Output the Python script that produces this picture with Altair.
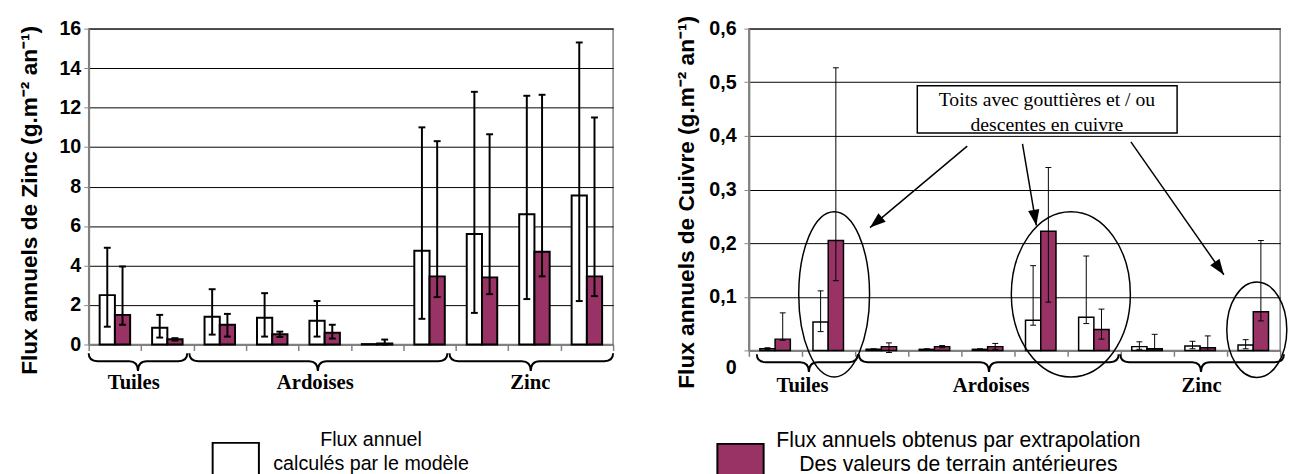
import math
import altair as alt
import pandas as pd

# ---------------- data ----------------
slots = ["1", "2", "3", "4", "5", "6", "7", "8", "9", "10"]
series = ["Flux annuel calculés par le modèle",
          "Flux annuels obtenus par extrapolation des valeurs de terrain antérieures"]
colors = ["#ffffff", "#993366"]

# Zinc (g.m-2 an-1)
zn_model = [2.5, 0.85, 1.4, 1.35, 1.2, 0.02, 4.75, 5.6, 6.6, 7.55]
zn_model_lo = [0.9, 0.35, 0.5, 0.4, 0.4, None, 1.3, 1.6, 2.3, 2.2]
zn_model_hi = [4.9, 1.5, 2.8, 2.6, 2.2, None, 11.0, 12.8, 12.6, 15.3]
zn_field = [1.5, 0.27, 1.0, 0.52, 0.6, 0.05, 3.45, 3.4, 4.7, 3.45]
zn_field_lo = [1.0, 0.2, 0.4, 0.38, 0.3, 0.0, 2.4, 2.55, 3.45, 2.45]
zn_field_hi = [3.95, 0.32, 1.55, 0.65, 1.0, 0.25, 10.3, 10.65, 12.65, 11.5]

# Cuivre (g.m-2 an-1)
cu_model = [0.003, 0.053, 0.002, 0.002, 0.002, 0.056, 0.062, 0.007, 0.008, 0.010]
cu_model_lo = [0.002, 0.035, 0.001, 0.001, 0.001, 0.047, 0.050, 0.002, 0.003, 0.003]
cu_model_hi = [0.005, 0.111, 0.003, 0.003, 0.003, 0.158, 0.176, 0.016, 0.017, 0.020]
cu_field = [0.021, 0.205, 0.007, 0.007, 0.007, 0.222, 0.039, 0.003, 0.005, 0.072]
cu_field_lo = [0.019, 0.130, -0.004, 0.005, 0.002, 0.090, 0.021, 0.000, 0.000, 0.055]
cu_field_hi = [0.070, 0.527, 0.014, 0.009, 0.013, 0.341, 0.077, 0.030, 0.027, 0.205]

groups = ["Tuiles", "Ardoises", "Zinc"]
zn_ticks = [0, 2, 4, 6, 8, 10, 12, 14, 16]
cu_ticks = [0, 0.1, 0.2, 0.3, 0.4, 0.5, 0.6]
legend_model = ["Flux annuel", "calculés par le modèle"]
legend_field = ["Flux annuels obtenus par extrapolation", "Des valeurs de terrain antérieures"]
note_lines = ["Toits avec gouttières et / ou", "descentes en cuivre"]

# ---------------- layout / style ----------------
W_L, H_L = 533, 321
W_R, H_R = 540, 327
SANS = "Liberation Sans"
SERIF = "Liberation Serif"


def long_df(model, mlo, mhi, field, flo, fhi):
    rows = []
    for i, s in enumerate(slots):
        rows.append(dict(slot=s, series=series[0], value=model[i], lo=mlo[i], hi=mhi[i]))
        rows.append(dict(slot=s, series=series[1], value=field[i], lo=flo[i], hi=fhi[i]))
    return pd.DataFrame(rows)


def brace_path(x0, x1, tip, ppu, U=10.0, H=18.0, m=8.0, r=9.0):
    c = (tip - x0) * ppu
    W = (x1 - x0) * ppu
    L, R = -c / U, (W - c) / U
    mm, hh, rr = m / U, H / U, r / U
    return (f"M {L:.3f},0 Q {L:.3f},{mm:.3f} {L + rr:.3f},{mm:.3f} L {-rr:.3f},{mm:.3f} "
            f"Q 0,{mm:.3f} 0,{hh:.3f} Q 0,{mm:.3f} {rr:.3f},{mm:.3f} "
            f"L {R - rr:.3f},{mm:.3f} Q {R:.3f},{mm:.3f} {R:.3f},0")


def ellipse_path(w, h, U=10.0):
    a, b = w / 2 / U, h / 2 / U
    return f"M {-a:.3f},0 A {a:.3f},{b:.3f} 0 0 1 {a:.3f},0 A {a:.3f},{b:.3f} 0 0 1 {-a:.3f},0 Z"


def panel(df, width, height, ydom, yaxis, pad_outer, bar_sw, err_sw, cap,
          braces, label_pos, brace_dy, label_dy, extra=None):
    ppu = width / 10.0
    xaxis = alt.Axis(title=None, labels=False, grid=False, tickBand="extent", ticks=True,
                     tickSize=6, tickColor="#808080", tickWidth=1.5,
                     domain=True, domainColor="#808080", domainWidth=2)

    def XB(axis=None):
        return alt.X("slot:N", sort=slots,
                     scale=alt.Scale(domain=slots, paddingInner=0, paddingOuter=0),
                     axis=axis, title=None)

    XO = alt.XOffset("series:N",
                     scale=alt.Scale(domain=series, paddingInner=0, paddingOuter=pad_outer))
    ysc = alt.Scale(domain=ydom, nice=False, zero=False)

    def Y(f):
        return alt.Y(f, type="quantitative", scale=ysc, axis=yaxis)

    XP = lambda f: alt.X(f, type="quantitative",
                         scale=alt.Scale(domain=[0, 10], nice=False, zero=False), axis=None)

    base = alt.Chart(df)
    bars = base.mark_bar(stroke="black", strokeWidth=bar_sw).encode(
        x=XB(xaxis), xOffset=XO, y=Y("value"),
        fill=alt.Fill("series:N", scale=alt.Scale(domain=series, range=colors), legend=None))
    errs = base.transform_filter("isValid(datum.lo)")
    rule = errs.mark_rule(color="black", strokeWidth=err_sw).encode(
        x=XB(), xOffset=XO, y=Y("lo"), y2="hi:Q")
    cap_lo = errs.mark_tick(color="black", thickness=err_sw, size=cap, opacity=1).encode(
        x=XB(), xOffset=XO, y=Y("lo"))
    cap_hi = errs.mark_tick(color="black", thickness=err_sw, size=cap, opacity=1).encode(
        x=XB(), xOffset=XO, y=Y("hi"))

    paths = [brace_path(b[0], b[1], b[2], ppu) for b in braces]
    bdf = pd.DataFrame({"name": groups, "pos": [b[2] for b in braces], "y": [0] * 3,
                        "lpos": label_pos})
    brace = alt.Chart(bdf).mark_point(filled=False, color="black", strokeWidth=2,
                                      opacity=1, size=400, yOffset=brace_dy).encode(
        x=XP("pos"), y=Y("y"),
        shape=alt.Shape("name:N", scale=alt.Scale(domain=groups, range=paths), legend=None))
    glab = alt.Chart(bdf).mark_text(font=SERIF, fontWeight="bold", fontSize=21,
                                    baseline="middle", dy=label_dy, color="black").encode(
        x=XP("lpos"), y=Y("y"), text="name:N")

    layers = [bars, rule, cap_lo, cap_hi, brace, glab]
    if extra:
        layers += extra(XP, Y)
    return alt.layer(*layers).resolve_scale(x="independent", shape="independent").properties(
        width=width, height=height)


# ---------------- left panel (Zinc) ----------------
df_zn = long_df(zn_model, zn_model_lo, zn_model_hi, zn_field, zn_field_lo, zn_field_hi)
yaxis_l = alt.Axis(title="Flux annuels de Zinc (g.m⁻² an⁻¹)", values=zn_ticks,
                   grid=True, gridColor="#000000", gridWidth=1, tickSize=5,
                   labelPadding=3, titlePadding=18, titleFontSize=23, titleY=174,
                   domain=True, domainColor="#808080", domainWidth=2)


def left_extra(XP, Y):
    one = pd.DataFrame({"k": ["m"]})
    box = alt.Chart(one).mark_rect(fill=colors[0], stroke="black", strokeWidth=2).encode(
        x=alt.value(126), x2=alt.value(173), y=alt.value(421), y2=alt.value(468))
    txt = alt.Chart(one).mark_text(font=SANS, fontSize=20, lineHeight=25, baseline="middle",
                                   align="center", color="black").encode(
        x=alt.value(287), y=alt.value(418), text=alt.value(legend_model))
    return [box, txt]


left = panel(df_zn, W_L, H_L, [0, 16], yaxis_l, 0.72, 2, 2, 7,
             braces=[(0.0, 1.88, 0.94), (1.92, 6.84, 4.37), (6.88, 10.0, 8.43)],
             label_pos=[0.86, 4.32, 8.42], brace_dy=9, label_dy=39, extra=left_extra)

# ---------------- right panel (Cuivre) ----------------
df_cu = long_df(cu_model, cu_model_lo, cu_model_hi, cu_field, cu_field_lo, cu_field_hi)
yaxis_r = alt.Axis(title="Flux annuels de Cuivre (g.m⁻² an⁻¹)", values=cu_ticks,
                   labelExpr="datum.value == 0 ? '0' : replace(format(datum.value, '.1f'), '.', ',')",
                   labelOffset={"condition": {"test": "datum.value == 0", "value": 17}, "value": 0},
                   grid=True, gridColor="#000000", gridWidth=1, tickSize=5,
                   labelPadding=8, titlePadding=10, titleFontSize=23, titleY=176,
                   domain=True, domainColor="#808080", domainWidth=2)


def right_extra(XP, Y):
    ppu, ppv = W_R / 10.0, H_R / 0.6
    ell = pd.DataFrame({"name": ["e1", "e2", "e3"], "pos": [1.605, 6.06, 9.56],
                        "val": [0.1045, 0.1045, 0.0385]})
    epaths = [ellipse_path(72, 168), ellipse_path(121, 168), ellipse_path(61, 97)]
    ellipses = alt.Chart(ell).mark_point(filled=False, color="black", strokeWidth=1.5,
                                         opacity=1, size=400).encode(
        x=XP("pos"), y=Y("val"),
        shape=alt.Shape("name:N", scale=alt.Scale(domain=["e1", "e2", "e3"], range=epaths),
                        legend=None))
    bx = pd.DataFrame({"p0": [3.17], "p1": [8.06], "v0": [0.4055], "v1": [0.4936]})
    box = alt.Chart(bx).mark_rect(fill="white", stroke="black", strokeWidth=1.5).encode(
        x=XP("p0"), x2="p1:Q", y=Y("v0"), y2="v1:Q")
    nt = pd.DataFrame({"t": note_lines, "pos": [5.61, 5.61], "val": [0.466, 0.420]})
    note = alt.Chart(nt).mark_text(font=SERIF, fontSize=20, baseline="middle",
                                   color="black").encode(x=XP("pos"), y=Y("val"), text="t:N")
    x1 = [4.11, 5.15, 7.19]
    y1 = [0.381, 0.385, 0.389]
    x2 = [2.28, 5.41, 8.94]
    y2 = [0.229, 0.233, 0.141]
    ang = []
    for a, b, c, d in zip(x1, y1, x2, y2):
        dx = (c - a) * ppu
        dy = -(d - b) * ppv
        ang.append(math.degrees(math.atan2(dx, -dy)) % 360)
    ar = pd.DataFrame({"x1": x1, "y1": y1, "x2": x2, "y2": y2, "ang": ang})
    shafts = alt.Chart(ar).mark_rule(color="black", strokeWidth=1.5).encode(
        x=XP("x1"), x2="x2:Q", y=Y("y1"), y2="y2:Q")
    heads = alt.Chart(ar).mark_point(shape="M 0,0 L -0.36,1 L 0.36,1 Z", filled=True,
                                     color="black", opacity=1, size=1024).encode(
        x=XP("x2"), y=Y("y2"), angle=alt.Angle("ang:Q", scale=None))
    one = pd.DataFrame({"k": ["f"]})
    lbox = alt.Chart(one).mark_rect(fill=colors[1], stroke="black", strokeWidth=2).encode(
        x=alt.value(-32), x2=alt.value(15), y=alt.value(422), y2=alt.value(469))
    ltxt = alt.Chart(one).mark_text(font=SANS, fontSize=21.5, lineHeight=25, baseline="middle",
                                    align="center", color="black").encode(
        x=alt.value(213), y=alt.value(419), text=alt.value(legend_field))
    return [ellipses, box, note, shafts, heads, lbox, ltxt]


right = panel(df_cu, W_R, H_R, [0, 0.6], yaxis_r, 0.636, 1.5, 1, 6,
              braces=[(0.15, 2.05, 1.13), (2.07, 6.96, 4.52), (6.99, 10.07, 8.51)],
              label_pos=[1.01, 4.56, 8.52], brace_dy=4, label_dy=36, extra=right_extra)

chart = alt.hconcat(left, right, spacing=58).properties(
    padding={"left": 10, "top": 2, "right": 0, "bottom": 0},
    background="white"
).configure_view(stroke="#808080", strokeWidth=1.5).configure_axis(
    labelFont=SANS, labelFontSize=20, labelFontWeight="bold", labelColor="black",
    titleFont=SANS, titleFontSize=20, titleFontWeight="bold", titleColor="black"
)

chart.save("out.html", embed_options={"renderer": "svg", "actions": False})
